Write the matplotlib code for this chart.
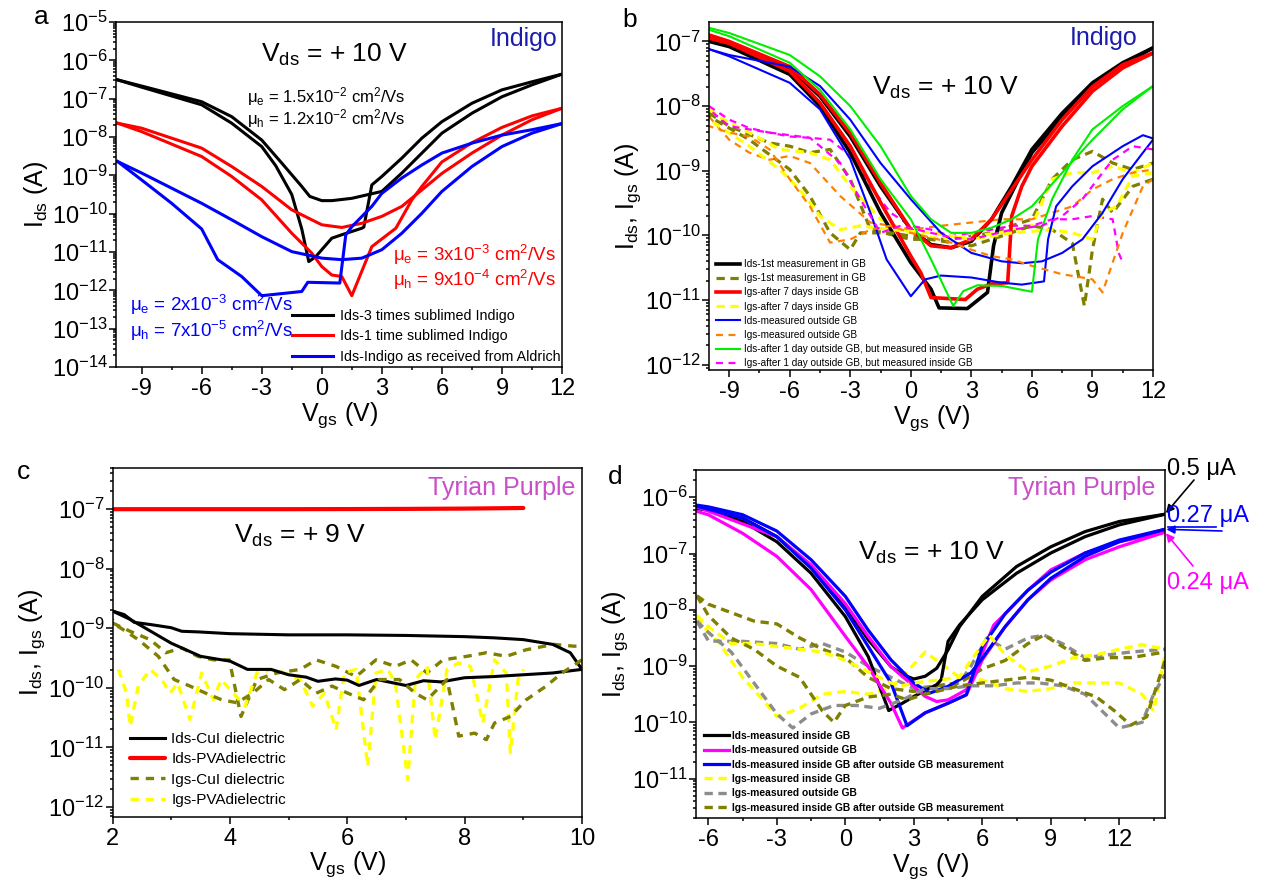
import numpy as np
import matplotlib
matplotlib.use("Agg")
import matplotlib.pyplot as plt
from matplotlib.lines import Line2D
from matplotlib.ticker import (FixedLocator, MultipleLocator, LogLocator,
                               FuncFormatter, NullFormatter)

# ---------------------------------------------------------------- style
plt.rcParams.update({
    "font.family": ["Liberation Sans", "DejaVu Sans"],
    "mathtext.fontset": "custom",
    "mathtext.rm": "Liberation Sans",
    "mathtext.it": "Liberation Sans:italic",
    "mathtext.bf": "Liberation Sans:bold",
    "mathtext.default": "regular",
    "axes.unicode_minus": False,
    "lines.scale_dashes": False,
    "lines.solid_joinstyle": "round",
    "lines.dash_capstyle": "butt",
})

# ---------------------------------------------------------------- data
# Every curve: gate voltage (V) and log10 of current (A); each sweep has two branches.

# (a) Indigo, three purities
a_v_black_1 = [-10.2, -9, -6, -4.5, -3, -2, -1, -0.6, 0, 0.5, 1.5, 3, 4, 5, 6, 7.5, 9, 10.5, 12]
a_l_black_1 = [-6.51, -6.67, -7.08, -7.47, -8.08, -8.68, -9.29, -9.55, -9.66, -9.66, -9.6, -9.42,
               -8.94, -8.42, -7.9, -7.38, -6.95, -6.64, -6.36]
a_v_black_2 = [-10.2, -9, -6, -4.5, -3, -2.3, -1.5, -1, -0.65, -0.3, 0.5, 1, 2, 2.1, 2.5, 3, 4, 5,
               6, 7.5, 9, 10.5, 12]
a_l_black_2 = [-6.51, -6.70, -7.16, -7.64, -8.25, -8.75, -9.5, -10.4, -11.25, -11.12, -10.64,
               -10.55, -10.38, -10.35, -9.25, -9.03, -8.55, -8.03, -7.6, -7.12, -6.77, -6.56, -6.36]
a_v_red_1 = [-10.2, -9, -6, -4.5, -3, -1.5, 0, 1, 2, 3, 4, 5, 6, 7.5, 9, 10.5, 12]
a_l_red_1 = [-7.64, -7.77, -8.29, -8.77, -9.29, -9.9, -10.29, -10.36, -10.25, -10.07, -9.81,
             -9.38, -8.95, -8.42, -7.95, -7.55, -7.25]
a_v_red_2 = [-10.2, -9, -6, -4.5, -3, -1.5, -0.5, 0, 0.5, 1, 1.5, 2.5, 3.7, 4.5, 5, 6, 7.5, 9, 10.5, 12]
a_l_red_2 = [-7.64, -7.86, -8.51, -9.03, -9.64, -10.51, -11.03, -11.38, -11.6, -11.64, -12.14,
             -10.86, -10.38, -9.64, -9.29, -8.65, -8.15, -7.75, -7.45, -7.25]
a_v_blue_1 = [-10.2, -9, -6, -4.5, -3, -1.5, 0, 1, 2, 3, 4, 5, 6, 7.5, 9, 10.5, 12]
a_l_blue_1 = [-8.64, -8.94, -9.73, -10.16, -10.6, -10.99, -11.16, -11.2, -11.16, -10.94, -10.51,
              -9.99, -9.42, -8.77, -8.25, -7.9, -7.65]
a_v_blue_2 = [-10.2, -9, -7.5, -6, -5.2, -4, -3, -1, -0.7, 0.9, 1.2, 1.5, 2.5, 3, 4, 5, 6, 7.5, 9, 10.5, 12]
a_l_blue_2 = [-8.64, -9.12, -9.73, -10.4, -11.2, -11.64, -12.14, -12.03, -11.79, -11.81, -10.55,
              -10.34, -9.81, -9.47, -9.07, -8.73, -8.42, -8.16, -7.95, -7.81, -7.65]

# (b) Indigo, storage / ambient history
b_v_black_1 = [-10, -9, -6, -4.5, -3, -1.5, 0, 1, 2, 3, 4, 5, 6, 7.5, 9, 10.5, 12]
b_l_black_1 = [-6.95, -7.05, -7.41, -7.85, -8.47, -9.24, -9.91, -10.14, -10.19, -10.09, -9.75,
               -9.24, -8.67, -8.11, -7.64, -7.33, -7.1]
b_v_black_2 = [-10, -9, -6, -4.5, -3, -1.5, 0, 1, 1.4, 2.8, 3.8, 4.1, 4.5, 5, 6, 7.5, 9, 10.5, 12]
b_l_black_2 = [-7.0, -7.08, -7.51, -8.0, -8.72, -9.65, -10.42, -10.83, -11.12, -11.13, -10.88,
               -10.16, -9.65, -9.34, -8.72, -8.18, -7.69, -7.36, -7.1]
b_v_red_1 = [-10, -9, -6, -4.5, -3, -1.5, 0, 1, 2, 3, 4, 5, 6, 7.5, 9, 10.5, 12]
b_l_red_1 = [-6.9, -7.0, -7.39, -7.82, -8.42, -9.19, -9.91, -10.16, -10.19, -10.06, -9.75, -9.29,
             -8.83, -8.21, -7.7, -7.36, -7.18]
b_v_red_2 = [-10, -9, -6, -4.5, -3, -1.5, 0, 0.5, 1, 2.7, 3.3, 4, 4.8, 5, 5.5, 6, 7.5, 9, 10.5, 12]
b_l_red_2 = [-6.95, -7.03, -7.46, -7.95, -8.62, -9.49, -10.32, -10.58, -10.96, -10.99, -10.83,
             -10.75, -10.73, -9.7, -9.24, -8.93, -8.31, -7.77, -7.41, -7.18]
b_v_green_1 = [-10, -9, -6, -4.5, -3, -1.5, 0, 1, 2, 3, 4, 5, 6, 7.5, 9, 10.5, 12]
b_l_green_1 = [-6.79, -6.87, -7.21, -7.54, -8.0, -8.62, -9.39, -9.75, -9.96, -9.96, -9.88, -9.75,
               -9.55, -9.03, -8.52, -8.05, -7.69]
b_v_green_2 = [-10, -9, -6, -4.5, -3, -1.5, 0, 1, 2.1, 2.6, 3.3, 4.5, 6, 6.3, 7, 8, 9, 10.5, 12]
b_l_green_2 = [-6.82, -6.92, -7.33, -7.75, -8.36, -9.13, -9.75, -10.37, -11.09, -10.86, -10.77,
               -10.78, -10.87, -10.06, -9.44, -8.83, -8.36, -8.0, -7.69]
b_v_blue_1 = [-10, -9, -6, -4.5, -3, -1.5, 0, 1.5, 3, 4.5, 5.5, 6.5, 7.5, 8.5, 9.5, 10.5, 11.5, 12]
b_l_blue_1 = [-7.12, -7.21, -7.39, -7.69, -8.21, -8.88, -9.44, -9.96, -10.27, -10.4, -10.43, -10.4,
              -10.27, -10.06, -9.65, -9.13, -8.72, -8.52]
b_v_blue_2 = [-10, -9, -6, -4.5, -3, -2, -1.2, 0, 0.7, 1.5, 3, 4.5, 5.5, 6.6, 6.8, 7.2, 8, 9, 10.5, 11.5, 12]
b_l_blue_2 = [-7.12, -7.23, -7.64, -8.05, -8.82, -9.65, -10.37, -10.94, -10.68, -10.62, -10.65,
              -10.73, -10.76, -10.71, -10.06, -9.55, -9.24, -8.93, -8.62, -8.45, -8.5]
b_v_olive_1 = [-10, -9, -7, -6, -5, -4, -3, -2, 0, 2, 4, 5, 6, 7, 8, 9, 10, 11, 12]
b_l_olive_1 = [-8.11, -8.31, -8.57, -8.62, -8.72, -8.67, -9.13, -9.91, -10.06, -10.06, -9.96,
               -9.85, -9.75, -9.13, -8.83, -8.70, -8.88, -8.98, -8.88]
b_v_olive_2 = [12, 11, 10, 9.5, 9, 8.6, 8, 7, 6, 4.5, 3, 1, -1, -2.5, -3, -4, -5, -6, -8, -10]
b_l_olive_2 = [-9.13, -9.24, -9.65, -9.44, -10.22, -11.09, -10.12, -9.91, -9.85, -10.01, -10.16,
               -10.06, -9.96, -9.96, -10.22, -9.96, -9.39, -8.98, -8.52, -8.16]
b_v_yellow_1 = [-10, -9, -8, -6.5, -5, -4, -3, -1.5, 0, 1.5, 3, 4.5, 6, 7, 8, 9, 10, 11, 12]
b_l_yellow_1 = [-8.05, -8.26, -8.41, -8.67, -8.72, -8.83, -9.24, -9.75, -9.96, -10.06, -10.01,
                -9.96, -9.85, -9.13, -9.03, -9.03, -8.93, -9.03, -8.88]
b_v_yellow_2 = [12, 11, 10.2, 9.5, 9, 8, 7, 5, 3, 1, -1, -2.5, -3.5, -4.5, -5.5, -6.5, -8, -10]
b_l_yellow_2 = [-9.03, -9.08, -9.55, -9.65, -10.06, -9.96, -9.91, -9.96, -10.06, -9.96, -9.91,
                -9.85, -9.91, -9.70, -9.29, -8.98, -8.62, -8.21]
b_v_orange_1 = [-10, -9, -8, -7, -6, -5, -3.5, -2, -1, 0, 1.5, 3, 4.5, 6, 7, 8, 9, 10, 11, 12]
b_l_orange_1 = [-8.16, -8.52, -8.72, -8.83, -8.77, -8.88, -9.39, -9.80, -9.85, -9.91, -9.85,
                -9.80, -9.75, -9.75, -9.65, -9.55, -9.29, -9.13, -9.03, -8.98]
b_v_orange_2 = [12, 11.5, 10.5, 10, 9.5, 9, 8.5, 7.5, 6, 5, 4, 3, 2, 0, -1, -2, -3, -4, -5, -6,
                -7, -8, -9, -10]
b_l_orange_2 = [-9.13, -9.24, -9.96, -10.42, -10.88, -10.68, -10.65, -10.6, -10.47, -10.37,
                -10.32, -10.22, -10.11, -9.96, -9.85, -9.91, -10.06, -10.11, -9.55, -9.13,
                -8.67, -8.47, -8.41, -8.31]
b_v_magenta_1 = [-10, -9, -8, -7, -6, -5, -4, -3, -2, -1, 0, 1, 2, 3, 4, 5, 6, 7, 8, 9, 10,
                 10.3, 10.5]
b_l_magenta_1 = [-8.0, -8.21, -8.34, -8.41, -8.47, -8.49, -8.52, -8.77, -9.24, -9.65, -9.85,
                 -9.91, -10.01, -9.96, -9.91, -9.85, -9.85, -9.75, -9.75, -9.70, -9.75,
                 -10.27, -10.42]
b_v_magenta_2 = [12, 11, 10, 9.5, 8.5, 7.5, 6.5, 5, 3, 2, 1, -0.5, -1.5, -2.5, -3.5, -5, -7, -9, -10]
b_l_magenta_2 = [-8.67, -8.62, -8.83, -9.03, -9.44, -9.70, -9.85, -9.91, -10.06, -10.03, -9.96,
                 -9.85, -9.96, -9.44, -8.88, -8.49, -8.41, -8.31, -8.05]

# (c) Tyrian Purple, CuI vs PVA dielectric
c_v_black_1 = [2.0, 2.2, 2.37, 2.67, 3.0, 3.18, 3.45, 4.0, 5.0, 6.0, 7.0, 8.0, 8.5, 9.0, 9.5, 9.8, 10.0]
c_l_black_1 = [-8.71, -8.77, -8.90, -8.94, -8.99, -9.05, -9.06, -9.09, -9.11, -9.11, -9.12,
               -9.14, -9.16, -9.19, -9.27, -9.41, -9.69]
c_v_black_2 = [2.0, 2.3, 2.6, 3.0, 3.5, 3.8, 4.0, 4.3, 4.7, 5.0, 5.3, 5.5, 5.8, 6.0, 6.2, 6.5,
               6.8, 7.0, 7.3, 7.6, 8.0, 8.5, 9.0, 9.5, 10.0]
c_l_black_2 = [-8.71, -8.85, -9.02, -9.25, -9.47, -9.52, -9.55, -9.69, -9.69, -9.78, -9.82,
               -9.89, -9.85, -9.87, -9.96, -9.86, -9.92, -9.96, -9.88, -9.90, -9.83, -9.81,
               -9.78, -9.75, -9.69]
c_v_red = [2, 3, 4, 5, 6, 7, 8, 8.5, 9]
c_l_red = [-7.0, -7.0, -7.0, -7.0, -6.998, -6.995, -6.99, -6.985, -6.98]
c_v_olive_1 = [2.0, 2.30, 2.64, 2.91, 3.18, 3.45, 3.72, 3.99, 4.19, 4.46, 4.80, 5.20, 5.47, 5.81,
               6.15, 6.49, 6.82, 7.09, 7.36, 7.63, 8.04, 8.37, 8.71, 9.05, 9.52, 9.86, 10.0]
c_l_olive_1 = [-8.91, -9.05, -9.19, -9.41, -9.33, -9.47, -9.53, -9.53, -10.48, -9.86, -9.75,
               -9.69, -9.53, -9.64, -9.81, -9.53, -9.64, -9.53, -9.75, -9.53, -9.47, -9.41,
               -9.47, -9.36, -9.27, -9.30, -9.30]
c_v_olive_2 = [10.0, 9.66, 9.39, 9.05, 8.78, 8.51, 8.37, 8.17, 7.90, 7.70, 7.36, 7.16, 6.89, 6.55,
               6.28, 6.01, 5.74, 5.47, 5.20, 4.93, 4.66, 4.39, 4.12, 3.86, 3.59, 3.32, 3.05,
               2.78, 2.44, 2.10, 2.0]
c_l_olive_2 = [-9.53, -9.75, -9.97, -10.20, -10.48, -10.59, -10.87, -10.76, -10.81, -9.86, -10.20,
               -10.09, -9.86, -9.86, -10.20, -10.09, -9.97, -10.09, -9.86, -10.03, -9.86, -10.09,
               -10.25, -10.20, -10.09, -9.97, -9.86, -9.47, -9.19, -8.97, -8.85]
c_v_yellow = [2.10, 2.24, 2.30, 2.44, 2.64, 2.84, 2.98, 3.11, 3.32, 3.52, 3.72, 3.85, 4.06, 4.26,
              4.46, 4.73, 4.93, 5.20, 5.41, 5.61, 5.81, 5.95, 6.15, 6.35, 6.49, 6.69, 6.82,
              7.03, 7.16, 7.36, 7.50, 7.70, 7.90, 8.10, 8.31, 8.51, 8.71, 8.78, 8.91, 9.0]
c_l_yellow = [-9.69, -10.09, -10.65, -9.97, -9.69, -9.86, -10.09, -9.92, -10.53, -9.75, -10.20,
              -9.86, -10.09, -10.31, -9.75, -9.69, -9.75, -9.86, -10.31, -10.09, -10.70, -9.75,
              -9.69, -11.32, -9.75, -9.69, -9.92, -11.54, -9.86, -9.64, -10.87, -9.69, -9.58,
              -9.64, -10.59, -9.53, -9.75, -11.09, -9.86, -9.69]

# (d) Tyrian Purple, glove-box history; currents quoted at Vgs = 14 V
d_end_black = 0.5e-6
d_end_blue = 0.27e-6
d_end_magenta = 0.24e-6
d_v_black_1 = [-6.5, -6, -4.5, -3, -1.5, 0, 1, 2, 2.5, 3, 3.5, 4, 4.5, 5, 6, 7.5, 9, 10.5, 12, 14]
d_l_black_1 = [-6.17, -6.2, -6.37, -6.7, -7.23, -7.94, -8.53, -9.01, -9.15, -9.23, -9.18, -9.04,
               -8.71, -8.3, -7.76, -7.23, -6.88, -6.61, -6.43, np.log10(d_end_black)]
d_v_black_2 = [-6.5, -6, -4.5, -3, -1.5, 0, 1, 1.9, 2.5, 3, 4, 4.2, 4.5, 5, 6, 7.5, 9, 10.5, 12, 14]
d_l_black_2 = [-6.2, -6.23, -6.43, -6.79, -7.35, -8.12, -8.83, -9.79, -9.66, -9.54, -9.33, -9.24,
               -8.56, -8.27, -7.82, -7.35, -6.99, -6.7, -6.49, np.log10(d_end_black)]
d_v_magenta_1 = [-6.5, -6, -4.5, -3, -1.5, 0, 1, 2, 2.5, 3.5, 4.5, 5.3, 6, 7, 8, 9, 10.5, 12, 14]
d_l_magenta_1 = [-6.25, -6.31, -6.64, -7.05, -7.64, -8.47, -9.01, -9.66, -10.1, -9.83, -9.66,
                 -9.51, -8.89, -8.3, -7.82, -7.47, -7.11, -6.88, np.log10(d_end_magenta)]
d_v_magenta_2 = [-6.5, -3, -1.5, 0, 1, 2, 3, 3.5, 4, 4.5, 5.3, 6, 6.5, 7, 8, 9, 10.5, 12, 14]
d_l_magenta_2 = [-6.17, -6.7, -7.2, -7.89, -8.47, -9.01, -9.36, -9.54, -9.63, -9.6, -9.42, -8.77,
                 -8.27, -8.07, -7.65, -7.29, -6.99, -6.79, np.log10(d_end_magenta)]
d_v_blue_1 = [-6.5, -6, -4.5, -3, -1.5, 0, 1, 2, 3, 3.7, 4.5, 5.5, 6, 7, 8, 9, 10.5, 12, 14]
d_l_blue_1 = [-6.14, -6.17, -6.31, -6.6, -7.11, -7.76, -8.36, -8.89, -9.3, -9.48, -9.36, -9.12,
              -8.86, -8.3, -7.82, -7.44, -7.05, -6.79, np.log10(d_end_blue)]
d_v_blue_2 = [-6.5, -4.5, -3, -1.5, 0, 1, 2, 2.7, 3.5, 4.5, 5.3, 6, 7, 8, 9, 10.5, 12, 14]
d_l_blue_2 = [-6.16, -6.37, -6.7, -7.26, -8.0, -8.65, -9.3, -10.06, -9.83, -9.66, -9.51, -8.65,
              -8.07, -7.65, -7.33, -6.99, -6.76, np.log10(d_end_blue)]
d_v_yellow_1 = [-6.5, -6, -5.5, -4.5, -3.5, -3, -2, -1, 0, 1, 2, 2.7, 3.5, 4, 5, 6, 7, 8, 9, 10,
                11, 12, 13, 13.5, 14]
d_l_yellow_1 = [-8.12, -8.4, -8.6, -9.2, -9.65, -9.9, -9.75, -9.5, -9.45, -9.5, -9.4, -9.1, -8.75,
                -8.9, -9.2, -9.25, -9.4, -9.45, -9.4, -9.3, -9.3, -9.3, -9.5, -9.8, -8.8]
d_v_yellow_2 = [-6.5, -6, -5, -4, -3, -2, -1, 0, 1, 2, 2.5, 3, 4, 5, 5.5, 6.3, 7, 8, 9, 10, 11,
                12, 13, 14]
d_l_yellow_2 = [-8.1, -8.3, -8.6, -8.6, -8.65, -8.7, -8.75, -8.9, -9.1, -9.3, -9.35, -9.3, -9.25,
                -9.2, -8.9, -8.45, -8.8, -9.1, -9.0, -8.85, -8.8, -8.7, -8.62, -8.7]
d_v_gray_1 = [-6.5, -6, -5.5, -4.5, -3, -2, -1, 0, 1, 2, 3, 4, 5, 5.5, 6.2, 7, 8, 8.7, 9.5,
              10.5, 11.5, 12.5, 14]
d_l_gray_1 = [-8.2, -8.55, -8.56, -8.56, -8.6, -8.7, -8.6, -8.75, -9.0, -9.2, -9.4, -9.35, -9.3,
              -9.0, -8.5, -8.7, -8.5, -8.45, -8.6, -8.85, -8.8, -8.75, -8.7]
d_v_gray_2 = [-6.5, -6, -5, -4, -3, -2.3, -1.5, -0.5, 0.5, 1.5, 2.5, 3.5, 4.5, 5.5, 6.5, 7.5,
              8.5, 9.5, 10.5, 11.5, 12, 13, 13.5, 14]
d_l_gray_2 = [-8.2, -8.4, -8.75, -9.3, -9.85, -10.1, -9.85, -9.7, -9.7, -9.75, -9.6, -9.4, -9.4,
              -9.35, -9.35, -9.3, -9.3, -9.35, -9.5, -9.9, -10.1, -10.0, -9.5, -9.15]
d_v_olive_1 = [-6.5, -6, -5, -4, -3, -2, -1, 0, 1, 2, 3, 4, 5, 6, 7, 8, 8.7, 9.5, 10.5, 11.5,
               12.5, 14]
d_l_olive_1 = [-7.75, -7.9, -8.05, -8.2, -8.25, -8.5, -8.7, -8.85, -9.2, -9.4, -9.45, -9.35,
               -9.3, -9.05, -8.9, -8.6, -8.45, -8.65, -8.9, -8.85, -8.85, -8.75]
d_v_olive_2 = [-6.5, -6, -5, -4, -3, -2, -1, -0.5, 0, 1, 2, 2.7, 3.5, 5, 6, 7, 8, 9, 10, 11,
               11.8, 12.5, 13.2, 14]
d_l_olive_2 = [-7.75, -8.1, -8.5, -8.7, -9.0, -9.2, -9.8, -10.0, -9.7, -9.55, -9.5, -9.6, -9.5,
               -9.35, -9.3, -9.25, -9.2, -9.25, -9.4, -9.55, -9.8, -10.05, -9.9, -8.9]

# ---------------------------------------------------------------- figure
W, H = 1270, 892
fig = plt.figure(figsize=(W / 100, H / 100), dpi=100)


def fp(px, py):
    return px / W, 1 - py / H


def panel(left, top, right, bottom):
    return fig.add_axes([left / W, 1 - bottom / H, (right - left) / W, (bottom - top) / H])


def decade_label(v, _pos):
    return r"$10^{%d}$" % int(round(np.log10(v)))


def style_axes(ax, xlim, ylim_exp, xticks, xminor, ylabel):
    lo, hi = ylim_exp
    ax.set_yscale("log")
    ax.set_xlim(*xlim)
    ax.set_ylim(10.0 ** lo, 10.0 ** hi)
    ax.xaxis.set_major_locator(FixedLocator(xticks))
    ax.xaxis.set_minor_locator(MultipleLocator(xminor))
    decades = np.arange(np.ceil(lo - 1e-9), np.floor(hi + 1e-9) + 1)
    ax.yaxis.set_major_locator(FixedLocator(10.0 ** decades))
    ax.yaxis.set_minor_locator(LogLocator(base=10, subs=np.arange(2, 10), numticks=100))
    ax.yaxis.set_major_formatter(FuncFormatter(decade_label))
    ax.yaxis.set_minor_formatter(NullFormatter())
    ax.tick_params(which="both", direction="out", top=False, right=False, width=1.1)
    ax.tick_params(which="major", length=5, labelsize=17)
    ax.tick_params(axis="y", which="major", pad=1)
    ax.tick_params(axis="x", which="major", pad=3)
    ax.tick_params(which="minor", length=2.5)
    for s in ax.spines.values():
        s.set_linewidth(1.1)
    ax.set_xlabel(r"V$_{gs}$ (V)", fontsize=18, labelpad=0)
    ax.set_ylabel(ylabel, fontsize=18, labelpad=1)


def curve(ax, v, logi, **kw):
    return ax.plot(v, 10.0 ** np.asarray(logi), **kw)[0]


def loop(ax, v1, l1, v2, l2, label, **kw):
    h = curve(ax, v1, l1, label=label, **kw)
    curve(ax, v2, l2, **kw)
    return h


# ------------------------------------------------------------ panel a
ax = panel(116, 22, 562, 367)
style_axes(ax, (-10.28, 12), (-14, -5), [-9, -6, -3, 0, 3, 6, 9, 12], 1.5, r"I$_{ds}$ (A)")
ha = [
    loop(ax, a_v_black_1, a_l_black_1, a_v_black_2, a_l_black_2,
         "Ids-3 times sublimed Indigo", color="black", lw=2.2),
    loop(ax, a_v_red_1, a_l_red_1, a_v_red_2, a_l_red_2,
         "Ids-1 time sublimed Indigo", color="#ff0000", lw=2.2),
    loop(ax, a_v_blue_1, a_l_blue_1, a_v_blue_2, a_l_blue_2,
         "Ids-Indigo as received from Aldrich", color="#0000ff", lw=2.2),
]
fig.legend(handles=ha, loc="upper left", bbox_to_anchor=fp(292, 309), frameon=False,
           fontsize=10.3, handlelength=2.9, handletextpad=0.45, labelspacing=0.45,
           borderpad=0, borderaxespad=0)
fig.text(*fp(41, 17), "a", fontsize=19, ha="center", va="center")
fig.text(*fp(334, 55), r"V$_{ds}$ = + 10 V", fontsize=19, ha="center", va="center")
fig.text(*fp(557, 39), "Indigo", fontsize=18, color="#1c1caa", ha="right", va="center")
fig.text(*fp(247, 97), r"μ$_{e}$ = 1.5x10$^{-2}$ cm$^{2}$/Vs", fontsize=12, va="center")
fig.text(*fp(247, 119), r"μ$_{h}$ = 1.2x10$^{-2}$ cm$^{2}$/Vs", fontsize=12, va="center")
fig.text(*fp(393, 255), r"μ$_{e}$ = 3x10$^{-3}$ cm$^{2}$/Vs", fontsize=13.5, color="#ff0000", va="center")
fig.text(*fp(393, 280), r"μ$_{h}$ = 9x10$^{-4}$ cm$^{2}$/Vs", fontsize=13.5, color="#ff0000", va="center")
fig.text(*fp(130, 305), r"μ$_{e}$ = 2x10$^{-3}$ cm$^{2}$/Vs", fontsize=13.5, color="#0000ff", va="center")
fig.text(*fp(130, 331), r"μ$_{h}$ = 7x10$^{-5}$ cm$^{2}$/Vs", fontsize=13.5, color="#0000ff", va="center")

# ------------------------------------------------------------ panel b
ax = panel(709, 22, 1153, 370)
style_axes(ax, (-10, 12), (-12.08, -6.7), [-9, -6, -3, 0, 3, 6, 9, 12], 1.5,
           r"I$_{ds}$, I$_{gs}$ (A)")
thick_dash = dict(lw=2.3, dashes=(6, 4))
thin_dash = dict(lw=1.6, dashes=(5, 4))
hb = [
    loop(ax, b_v_black_1, b_l_black_1, b_v_black_2, b_l_black_2,
         "Ids-1st measurement in GB", color="black", lw=2.6),
    loop(ax, b_v_olive_1, b_l_olive_1, b_v_olive_2, b_l_olive_2,
         "Igs-1st measurement in GB", color="#808000", **thick_dash),
    loop(ax, b_v_red_1, b_l_red_1, b_v_red_2, b_l_red_2,
         "Igs-after 7 days inside GB", color="#ff0000", lw=2.6),
    loop(ax, b_v_yellow_1, b_l_yellow_1, b_v_yellow_2, b_l_yellow_2,
         "Igs-after 7 days inside GB", color="#ffff00", **thick_dash),
    loop(ax, b_v_blue_1, b_l_blue_1, b_v_blue_2, b_l_blue_2,
         "Ids-measured outside GB", color="#0000ff", lw=1.5),
    loop(ax, b_v_orange_1, b_l_orange_1, b_v_orange_2, b_l_orange_2,
         "Igs-measured outside GB", color="#ff8000", **thin_dash),
    loop(ax, b_v_green_1, b_l_green_1, b_v_green_2, b_l_green_2,
         "Ids-after 1 day outside GB, but measured inside GB", color="#00ee00", lw=1.5),
    loop(ax, b_v_magenta_1, b_l_magenta_1, b_v_magenta_2, b_l_magenta_2,
         "Igs-after 1 day outside GB, but measured inside GB", color="#ff00ff", **thin_dash),
]
# gate-leakage traces sit beneath the channel-current traces
for h in hb[1::2]:
    h.set_zorder(1.9)
fig.legend(handles=hb, loc="upper left", bbox_to_anchor=fp(716, 259), frameon=False,
           fontsize=7.2, handlelength=2.4, handletextpad=0.35, labelspacing=0.42,
           borderpad=0, borderaxespad=0)
fig.text(*fp(630, 20), "b", fontsize=19, ha="center", va="center")
fig.text(*fp(1138, 38), "Indigo", fontsize=18, color="#1c1caa", ha="right", va="center")
fig.text(*fp(945, 88), r"V$_{ds}$ = + 10 V", fontsize=19, ha="center", va="center")

# ------------------------------------------------------------ panel c
ax = panel(112.5, 467.5, 582, 816.5)
style_axes(ax, (2, 10), (-12.16, -6.3), [2, 4, 6, 8, 10], 1.0, r"I$_{ds}$, I$_{gs}$ (A)")
hc = [
    loop(ax, c_v_black_1, c_l_black_1, c_v_black_2, c_l_black_2,
         "Ids-CuI dielectric", color="black", lw=2.2),
    curve(ax, c_v_red, c_l_red, label="Ids-PVAdielectric", color="#ff0000", lw=3.0,
          solid_capstyle="round"),
    loop(ax, c_v_olive_1, c_l_olive_1, c_v_olive_2, c_l_olive_2,
         "Igs-CuI dielectric", color="#808000", lw=2.4, dashes=(6, 5)),
    curve(ax, c_v_yellow, c_l_yellow, label="Igs-PVAdielectric", color="#ffff00",
          lw=2.4, dashes=(6, 5)),
]
for h in hc[2:]:
    h.set_zorder(1.9)
fig.legend(handles=hc, loc="upper left", bbox_to_anchor=fp(130, 732), frameon=False,
           fontsize=11, handlelength=2.3, handletextpad=0.4, labelspacing=0.42,
           borderpad=0, borderaxespad=0)
fig.text(*fp(24, 472), "c", fontsize=19, ha="center", va="center")
fig.text(*fp(575, 488), "Tyrian Purple", fontsize=18, color="#c94fc9", ha="right", va="center")
fig.text(*fp(300, 536), r"V$_{ds}$ = + 9 V", fontsize=19, ha="center", va="center")

# ------------------------------------------------------------ panel d
ax = panel(696, 470, 1165, 818)
style_axes(ax, (-6.54, 14), (-11.7, -5.515), [-6, -3, 0, 3, 6, 9, 12], 1.5,
           r"I$_{ds}$, I$_{gs}$ (A)")
hd = [
    loop(ax, d_v_black_1, d_l_black_1, d_v_black_2, d_l_black_2,
         "Ids-measured inside GB", color="black", lw=2.3),
    loop(ax, d_v_magenta_1, d_l_magenta_1, d_v_magenta_2, d_l_magenta_2,
         "Ids-measured outside GB", color="#ff00ff", lw=2.3),
    loop(ax, d_v_blue_1, d_l_blue_1, d_v_blue_2, d_l_blue_2,
         "Ids-measured inside GB after outside GB measurement", color="#0000ff", lw=2.3),
    loop(ax, d_v_yellow_1, d_l_yellow_1, d_v_yellow_2, d_l_yellow_2,
         "Igs-measured inside GB", color="#ffff00", lw=2.4, dashes=(6, 4)),
    loop(ax, d_v_gray_1, d_l_gray_1, d_v_gray_2, d_l_gray_2,
         "Igs-measured outside GB", color="#8c8c8c", lw=2.4, dashes=(6, 4)),
    loop(ax, d_v_olive_1, d_l_olive_1, d_v_olive_2, d_l_olive_2,
         "Igs-measured inside GB after outside GB measurement", color="#808000",
         lw=2.4, dashes=(6, 4)),
]
for h in hd[3:]:
    h.set_zorder(1.9)
fig.legend(handles=hd, loc="upper left", bbox_to_anchor=fp(704, 731), frameon=False,
           prop={"size": 7.4, "weight": "bold"}, handlelength=2.4, handletextpad=0.3,
           labelspacing=0.42, borderpad=0, borderaxespad=0)
fig.text(*fp(615, 477), "d", fontsize=19, ha="center", va="center")
fig.text(*fp(1155, 488), "Tyrian Purple", fontsize=18, color="#c94fc9", ha="right", va="center")
fig.text(*fp(931, 553), r"V$_{ds}$ = + 10 V", fontsize=19, ha="center", va="center")

# end-point currents with arrows
fig.text(*fp(1167, 469), "0.5 μA", fontsize=17, color="black", va="center")
fig.text(*fp(1167, 516), "0.27 μA", fontsize=17, color="#0000ff", va="center")
fig.text(*fp(1167, 583), "0.24 μA", fontsize=17, color="#ff00ff", va="center")
fig.add_artist(Line2D([1168 / W, 1216 / W], [1 - 527 / H, 1 - 527 / H], color="#0000ff",
                      lw=1.2, transform=fig.transFigure))
arrow = dict(arrowstyle="-|>", mutation_scale=12, lw=1.2, shrinkA=0, shrinkB=1)
ax.annotate("", xy=(14, d_end_black), xycoords="data", xytext=fp(1194, 480),
            textcoords="figure fraction", annotation_clip=False,
            arrowprops=dict(color="black", **arrow))
ax.annotate("", xy=(14, d_end_blue), xycoords="data", xytext=fp(1222, 531),
            textcoords="figure fraction", annotation_clip=False,
            arrowprops=dict(color="#0000ff", **arrow))
ax.annotate("", xy=(14, d_end_magenta), xycoords="data", xytext=fp(1193, 566),
            textcoords="figure fraction", annotation_clip=False,
            arrowprops=dict(color="#ff00ff", **arrow))

fig.savefig("out.png", dpi=100)
